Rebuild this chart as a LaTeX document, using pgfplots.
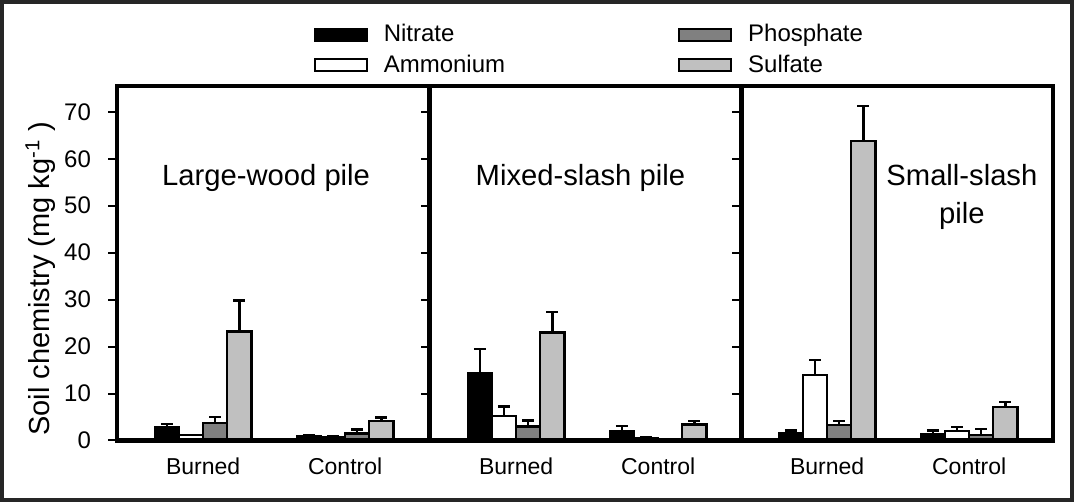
\documentclass[border=0pt]{standalone}
\usepackage{pgfplots}
\pgfplotsset{compat=1.18}
\usepackage{fontspec}
\setmainfont{Liberation Sans}
\definecolor{phos}{RGB}{128,128,128}
\definecolor{sulf}{RGB}{192,192,192}
\definecolor{framec}{RGB}{38,38,38}
\pgfplotsset{
  panel/.style={
    scale only axis, width=156pt, height=177.25pt,
    anchor=south west,
    xmin=-0.606, xmax=1.59, ymin=0, ymax=75.5,
    ytick={0,10,...,70}, ytick pos=left, tick align=outside,
    major tick length=4.5pt,
    ytick style={line width=1pt, black},
    xtick={0,1}, xticklabels={Burned,Control},
    xtick style={draw=none},
    xticklabel style={font=\fontsize{11.5}{13}\selectfont, yshift=-0.5pt},
    yticklabel style={font=\fontsize{12}{14}\selectfont, xshift=-5pt},
    /pgf/number format/assume math mode=true,
    axis line style={line width=2.2pt},
    axis on top,
    ybar, bar width=0.17,
    clip=false,
  },
  bp/.style={bar shift=0pt, draw=black, line width=1.1pt,
    error bars/y dir=plus, error bars/y explicit,
    error bars/error bar style={line width=1.2pt, black, solid},
    error bars/error mark options={rotate=90, line width=1.2pt, black, mark size=3pt, solid}},
  sw/.style={/pgfplots/legend image code/.code={\draw[##1, line width=1pt, solid] (0pt,-3pt) rectangle (26pt,3pt);}},
}
\begin{document}
\begin{tikzpicture}
\useasboundingbox (0,0) rectangle (537pt,251pt);
\draw[framec, line width=2pt] (1pt,1pt) rectangle (536pt,250pt);
% Panel 1
\begin{axis}[panel, at={(58.5pt,30.75pt)},
  ylabel={Soil chemistry (mg kg\textsuperscript{-1}\ )},
  ylabel style={at={(-0.245,0.456)}, anchor=center, font=\fontsize{14.5}{16}\selectfont}]
\addplot[bp, fill=black] coordinates {(-0.255,2.9) +- (0,0.6) (0.745,0.9) +- (0,0.2)};
\addplot[bp, fill=white] coordinates {(-0.085,1.1) +- (0,0.1) (0.915,0.8) +- (0,0.1)};
\addplot[bp, fill=phos] coordinates {(0.085,3.8) +- (0,1.2) (1.085,1.5) +- (0,0.8)};
\addplot[bp, fill=sulf] coordinates {(0.255,23.2) +- (0,6.6) (1.255,4.1) +- (0,0.8)};
\node[font=\fontsize{14.6}{16}\selectfont] at (rel axis cs:0.478,0.74) {Large-wood pile};
\end{axis}
% Panel 2
\begin{axis}[panel, at={(215pt,30.75pt)}, yticklabels={},
  legend columns=2,
  legend style={at={(0.514,1.197)}, anchor=north, draw=none, fill=none,
    font=\fontsize{12}{14}\selectfont, legend cell align=left,
    /tikz/every odd column/.append style={column sep=6pt},
    /tikz/every even column/.append style={column sep=84.5pt},
    row sep=1pt}]
\addplot[bp, sw, fill=black] coordinates {(-0.255,14.3) +- (0,5.2) (0.745,1.9) +- (0,1.2)};
\addlegendentry{Nitrate}
\addplot[bp, sw, fill=phos] coordinates {(0.085,3.0) +- (0,1.3)};
\addlegendentry{Phosphate}
\addplot[bp, sw, fill=white] coordinates {(-0.085,5.3) +- (0,1.9) (0.915,0.6) +- (0,0.1)};
\addlegendentry{Ammonium}
\addplot[bp, sw, fill=sulf] coordinates {(0.255,23.0) +- (0,4.4) (1.255,3.4) +- (0,0.8)};
\addlegendentry{Sulfate}
\node[font=\fontsize{14.6}{16}\selectfont] at (rel axis cs:0.482,0.74) {Mixed-slash pile};
\end{axis}
% Panel 3
\begin{axis}[panel, at={(370.5pt,30.75pt)}, yticklabels={}]
\addplot[bp, fill=black] coordinates {(-0.255,1.5) +- (0,0.6) (0.745,1.4) +- (0,0.7)};
\addplot[bp, fill=white] coordinates {(-0.085,13.9) +- (0,3.3) (0.915,2.1) +- (0,0.8)};
\addplot[bp, fill=phos] coordinates {(0.085,3.3) +- (0,0.9) (1.085,1.2) +- (0,1.3)};
\addplot[bp, fill=sulf] coordinates {(0.255,63.8) +- (0,7.4) (1.255,7.2) +- (0,1.0)};
\node[font=\fontsize{14.6}{16}\selectfont, align=center] at (rel axis cs:0.708,0.687) {Small-slash\\[3pt]pile};
\end{axis}
\end{tikzpicture}
\end{document}
